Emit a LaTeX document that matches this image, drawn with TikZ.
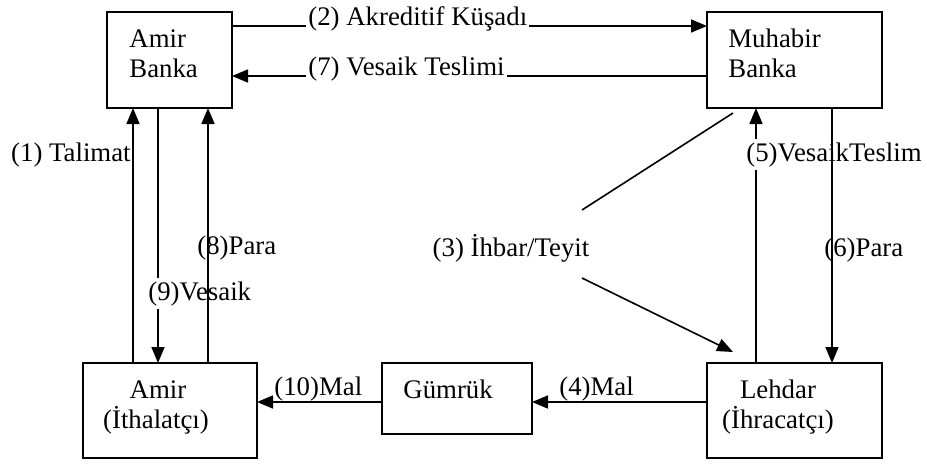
\documentclass[tikz,border=0pt]{standalone}
\usepackage{fontspec}
\setmainfont{Liberation Serif}
\usetikzlibrary{arrows.meta}
\begin{document}
\begin{tikzpicture}[x=0.5pt,y=-0.5pt,
  txt/.style={font=\fontsize{13.4pt}{16pt}\selectfont, inner sep=0pt},
  boxnode/.style={draw, line width=0.8pt, inner sep=0pt, outer sep=0pt},
  link/.style={line width=0.8pt},
  arr/.style={line width=0.8pt, -{Triangle[length=8pt,width=6.5pt]}},
  cover/.style={txt, fill=white, inner xsep=1pt, inner ysep=1.5pt}]
\useasboundingbox (0,0) rectangle (927,463);

% boxes
\node[boxnode, minimum width=62.5pt, minimum height=48pt] (amirbank) at (169.5,60) {};
\node[boxnode, minimum width=87.5pt, minimum height=48pt] (muhabir) at (794.5,60) {};
\node[boxnode, minimum width=87pt, minimum height=47.5pt] (amir) at (170,410.5) {};
\node[boxnode, minimum width=75pt, minimum height=35.5pt] (gumruk) at (457,398.5) {};
\node[boxnode, minimum width=87.5pt, minimum height=47.5pt] (lehdar) at (794.5,410.5) {};

% box texts
\node[txt, anchor=base west] (t1a) at (129,47) {Amir};
\node[txt, anchor=base west] (t1b) at (129,77) {Banka};
\node[txt, anchor=base west] (t2a) at (728,47) {Muhabir};
\node[txt, anchor=base west] (t2b) at (728,77) {Banka};
\node[txt, anchor=base] (t3a) at (158,398) {Amir};
\node[txt, anchor=base] (t3b) at (156,428) {(İthalatçı)};
\node[txt, anchor=base west] (t4a) at (403,398) {Gümrük};
\node[txt, anchor=base] (t5a) at (778,398) {Lehdar};
\node[txt, anchor=base] (t5b) at (778,428) {(İhracatçı)};

% lane positions
\coordinate (x1) at (133,0);
\coordinate (x9) at (158,0);
\coordinate (x8) at (208,0);
\coordinate (x5) at (756,0);
\coordinate (x6) at (832,0);
\coordinate (y2) at (0,26);
\coordinate (y7) at (0,76);
\coordinate (y4) at (0,402);
\coordinate (d3a) at (733,113);
\coordinate (d3b) at (582,210);
\coordinate (d3c) at (582,278);
\coordinate (d3d) at (733,352);

% connectors running under their labels
\draw[arr] (x1 |- amir.north) -- (x1 |- amirbank.south);
\draw[arr] (amirbank.east |- y2) -- (muhabir.west |- y2);
\draw[arr] (muhabir.west |- y7) -- (amirbank.east |- y7);
\draw[link] (d3a) -- (d3b);
\draw[arr] (d3c) -- (d3d);
\draw[arr] (lehdar.west |- y4) -- (gumruk.east |- y4);
\draw[arr] (gumruk.west |- y4) -- (amir.east |- y4);
\draw[arr] (x5 |- lehdar.north) -- (x5 |- muhabir.south);
\draw[arr] (x9 |- amirbank.south) -- (x9 |- amir.north);

% labels that break their lines
\node[cover, anchor=base west] (l2) at (306,25) {(2) Akreditif Küşadı};
\node[cover, anchor=base west] (l7) at (306,75) {(7) Vesaik Teslimi};
\node[cover, anchor=base west] (l5) at (744,161) {(5)VesaikTeslim};
\node[cover, anchor=base west] (l9) at (146,300) {(9)Vesaik};

% connectors drawn across labels
\draw[arr] (x6 |- muhabir.south) -- (x6 |- lehdar.north);
\draw[arr] (x8 |- amir.north) -- (x8 |- amirbank.south);

% plain labels
\node[txt, anchor=base east] (l1) at (131,161) {(1) Talimat};
\node[txt, anchor=base west] (l8) at (197,254) {(8)Para};
\node[txt, anchor=base west] (l6) at (824,256) {(6)Para};
\node[txt, anchor=base] (l3) at (511,256) {(3) İhbar/Teyit};
\node[txt, anchor=base west] (l4) at (559,395) {(4)Mal};
\node[txt, anchor=base west] (l10) at (274,395) {(10)Mal};
\end{tikzpicture}
\end{document}
